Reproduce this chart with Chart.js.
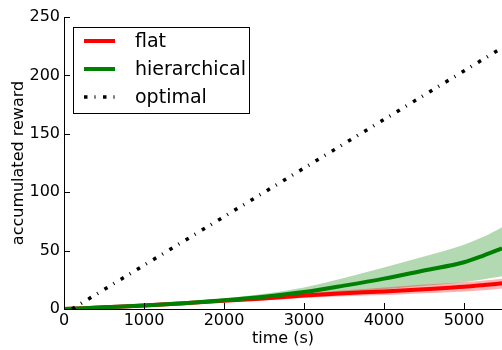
<!DOCTYPE html>
<html><head><meta charset="utf-8">
<script src="https://cdn.jsdelivr.net/npm/chart.js@4/dist/chart.umd.min.js"></script>
<style>html,body{margin:0;padding:0;background:#fff}</style>
</head><body>
<canvas id="c" width="502" height="350"></canvas>
<script>
const times      = [0, 500, 1000, 1500, 2000, 2500, 3000, 3500, 4000, 4500, 5000, 5250, 5475];
const hierMean   = [0, 1.5, 3, 5, 7.5, 10.5, 14.5, 20, 26, 33, 40, 46, 52];
const hierUpper  = [0, 2, 3.5, 6, 9, 13, 18.5, 26.5, 35.5, 45, 55, 62, 70];
const hierLower  = [0, 1, 2.5, 4, 6, 8, 11, 14, 17, 20, 23, 25.5, 28];
const flatMean   = [0, 1.5, 3, 5, 7, 9, 11.5, 13.5, 15, 17, 19, 20.5, 22];
const flatUpper  = [0, 2, 3.5, 5.5, 8, 10.5, 13.5, 16, 18.5, 21, 23, 24.5, 26];
const flatLower  = [0, 1, 2.5, 4, 6, 7.5, 9.5, 11, 12, 13.5, 15, 16, 17.5];
const optimalT   = [100, 5475];
const optimalV   = [0, 223.6];
const xTicks     = [0, 1000, 2000, 3000, 4000, 5000];
const yTicks     = [0, 50, 100, 150, 200, 250];
const legendLabels = ['flat', 'hierarchical', 'optimal'];

const pts = (xs, ys) => xs.map((x, i) => ({x, y: ys[i]}));
const FONT = "'DejaVu Sans', sans-serif";
const DASH = [3.5, 7, 1, 7.5];

const legendPlugin = {
  id: 'mplLegend',
  afterDraw(chart) {
    const ctx = chart.ctx;
    ctx.save();
    ctx.fillStyle = '#fff';
    ctx.fillRect(73.5, 27.5, 176, 86);
    ctx.strokeStyle = '#000'; ctx.lineWidth = 1;
    ctx.strokeRect(73.5, 27.5, 176, 86);
    const items = [
      {c: '#ff0000', dash: [], w: 4},
      {c: '#008000', dash: [], w: 4},
      {c: '#000', dash: DASH, w: 3.5}
    ];
    ctx.font = '19px ' + FONT;
    ctx.textBaseline = 'middle';
    items.forEach((it, i) => {
      const y = 41 + i * 28;
      ctx.beginPath();
      ctx.setLineDash(it.dash);
      ctx.lineCap = 'butt';
      ctx.strokeStyle = it.c; ctx.lineWidth = it.w;
      ctx.moveTo(84, y); ctx.lineTo(115, y); ctx.stroke();
      ctx.setLineDash([]);
      ctx.fillStyle = '#000';
      ctx.fillText(legendLabels[i], 135, y + 1);
    });
    ctx.restore();
  }
};

const tickPlugin = {
  id: 'inTicks',
  afterDatasetsDraw(chart) {
    const ctx = chart.ctx, xs = chart.scales.x, ys = chart.scales.y;
    const a = chart.chartArea;
    ctx.save();
    ctx.strokeStyle = '#000'; ctx.lineWidth = 1;
    ctx.beginPath();
    xTicks.forEach(v => { const p = Math.round(xs.getPixelForValue(v)) + 0.5; ctx.moveTo(p, a.bottom); ctx.lineTo(p, a.bottom - 6); });
    yTicks.forEach(v => { const p = Math.round(ys.getPixelForValue(v)) + 0.5; ctx.moveTo(a.left, p); ctx.lineTo(a.left + 6, p); });
    ctx.stroke();
    ctx.restore();
  }
};

new Chart(document.getElementById('c'), {
  type: 'line',
  data: {
    datasets: [
      {label: 'optimal', data: pts(optimalT, optimalV), borderColor: '#000', borderWidth: 3.5, borderDash: DASH, borderCapStyle: 'butt', pointRadius: 0, fill: false},
      {label: 'hierarchical', data: pts(times, hierMean), borderColor: '#008000', borderWidth: 4, pointRadius: 0, fill: false, cubicInterpolationMode: 'monotone'},
      {label: 'flat', data: pts(times, flatMean), borderColor: '#ff0000', borderWidth: 4, pointRadius: 0, fill: false, cubicInterpolationMode: 'monotone'},
      {label: 'fu', data: pts(times, flatUpper), borderWidth: 0, pointRadius: 0, fill: '+1', backgroundColor: 'rgba(255,0,0,0.3)', cubicInterpolationMode: 'monotone'},
      {label: 'fl', data: pts(times, flatLower), borderWidth: 0, pointRadius: 0, fill: false, cubicInterpolationMode: 'monotone'},
      {label: 'hu', data: pts(times, hierUpper), borderWidth: 0, pointRadius: 0, fill: '+1', backgroundColor: 'rgba(0,128,0,0.3)', cubicInterpolationMode: 'monotone'},
      {label: 'hl', data: pts(times, hierLower), borderWidth: 0, pointRadius: 0, fill: false, cubicInterpolationMode: 'monotone'}
    ]
  },
  options: {
    responsive: false, animation: false, devicePixelRatio: 1,
    layout: {padding: {top: 17, right: 0, left: 0, bottom: 0}},
    plugins: {legend: {display: false}, tooltip: {enabled: false}},
    scales: {
      x: {
        type: 'linear', min: 0, max: 5475,
        afterFit(s) { s.height = 41; },
        afterBuildTicks(s) { s.ticks = xTicks.map(v => ({value: v})); },
        grid: {display: false, drawTicks: false},
        border: {display: true, color: '#000', width: 1},
        ticks: {font: {family: FONT, size: 16}, color: '#000', padding: 2, maxRotation: 0, callback: v => String(v)},
        title: {display: true, text: 'time (s)', font: {family: FONT, size: 16}, color: '#000', padding: {top: 0, bottom: 1.5}}
      },
      y: {
        type: 'linear', min: 0, max: 250,
        afterFit(s) { s.width = 64; },
        afterBuildTicks(s) { s.ticks = yTicks.map(v => ({value: v})); },
        grid: {display: false, drawTicks: false},
        border: {display: true, color: '#000', width: 1},
        ticks: {font: {family: FONT, size: 16}, color: '#000', padding: 4, callback: v => String(v)},
        title: {display: true, text: 'accumulated reward', font: {family: FONT, size: 16}, color: '#000', padding: {top: 9.5, bottom: 0}}
      }
    }
  },
  plugins: [tickPlugin, legendPlugin]
});
</script>
</body></html>
